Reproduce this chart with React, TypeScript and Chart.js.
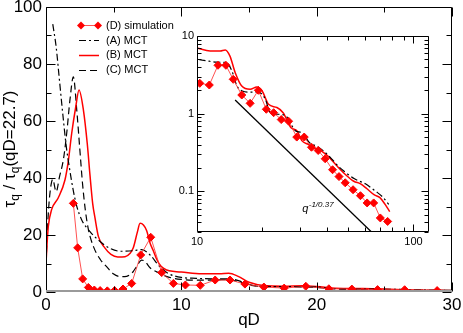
import React, { useEffect, useRef } from 'react';
import { Chart, registerables } from 'chart.js';
Chart.register(...registerables);

const FONT = '"Liberation Sans", Arial, Helvetica, sans-serif';

// (D) simulation
const simQ = [2.02, 2.34, 2.71, 3.13, 3.57, 4.0, 4.53, 5.07, 5.69, 6.33, 7.0, 7.74, 8.55, 9.41, 10.3, 11.4, 12.5, 13.6, 14.7, 16.1, 17.6, 19.2, 20.9, 22.6, 24.5, 26.5, 28.9, 31.3, 33.8, 36.3, 39.1, 42.3, 45.3, 48.4, 52.6, 56.9, 61.1, 65.5, 70.3, 76.0];
const simTau = [31.1, 15.5, 4.6, 1.6, 0.7, 0.5, 0.4, 0.5, 1.05, 3.0, 13.0, 19.2, 6.8, 3.0, 2.46, 2.34, 4.2, 4.2, 2.77, 1.74, 1.36, 2.0, 1.14, 1.03, 0.84, 0.8, 0.5, 0.5, 0.37, 0.336, 0.263, 0.19, 0.155, 0.129, 0.105, 0.088, 0.071, 0.071, 0.0455, 0.041];

// (A) MCT
const mctAQ = [0.5, 0.75, 1.0, 1.25, 1.5, 1.75, 2.0, 2.25, 2.64, 3.25, 4.0, 4.73, 5.5, 6.45, 7.07, 7.69, 8.37, 9.0, 10.0, 11.1, 12.3, 13.7, 14.5, 15.3, 16.2, 17.3, 19.2, 20.7, 21.8, 24.2, 25.8, 28.6, 30.5, 33.2, 35.9, 38.5, 42, 45, 48, 53.4, 60, 67, 72, 76.9];
const mctATau = [94, 86, 74, 62, 51, 43, 36, 30.5, 25.3, 21.2, 17.7, 15.3, 14.3, 14.5, 14.9, 13, 9.1, 6.6, 5.1, 4.8, 4.6, 4.55, 3.55, 2.27, 1.96, 1.9, 1.9, 1.53, 1.03, 0.98, 0.93, 0.6, 0.57, 0.42, 0.38, 0.33, 0.26, 0.21, 0.18, 0.145, 0.125, 0.1, 0.085, 0.068];

// (B) MCT
const mctBQ = [0, 0.08, 0.17, 0.42, 0.9, 1.4, 1.65, 1.9, 2.2, 2.44, 2.76, 3.05, 3.25, 3.45, 3.62, 3.87, 4.36, 4.8, 5.3, 5.84, 6.2, 6.45, 6.75, 6.95, 7.2, 7.44, 7.7, 7.93, 8.18, 8.5, 8.92, 9.5, 10.0, 11.5, 12.8, 13.5, 14.2, 15.0, 16.1, 17.6, 18.9, 20.0, 21.4, 23.4, 25.0, 27.2, 29.0, 30.5, 32.8, 34.4, 36.4, 38.2, 40.5, 44.5, 48.5, 53, 57, 61, 66, 70, 74, 77.7];
const mctBTau = [10, 17, 23, 29, 33, 39.3, 46, 55.7, 65, 70.9, 64, 52, 41, 31, 26, 19.5, 15.4, 13.2, 12.3, 12.4, 13.5, 15.5, 21, 24.1, 23.5, 21.5, 17, 14.5, 11.5, 9.0, 7.7, 7.2, 7.0, 6.4, 6.4, 6.6, 5.5, 3.4, 2.27, 2.06, 2.2, 1.96, 1.32, 1.2, 1.03, 0.66, 0.6, 0.45, 0.4, 0.36, 0.35, 0.32, 0.28, 0.21, 0.165, 0.135, 0.125, 0.108, 0.09, 0.083, 0.068, 0.055];

// (C) MCT
const mctCQ = [0, 0.15, 0.3, 0.5, 0.75, 1.0, 1.28, 1.53, 1.77, 2.02, 2.27, 2.5, 2.7, 2.9, 3.13, 3.5, 4.0, 4.48, 4.97, 5.5, 5.96, 6.45, 6.7, 7.07, 7.3, 7.69, 8.37, 9.0, 10, 11, 12, 13, 13.7, 14.3, 14.8, 15.5, 16.2, 17.5, 19, 20, 21, 22.7, 25, 27, 30];
const mctCTau = [10, 26, 35, 39.5, 35.2, 40.5, 46.3, 55.7, 67.4, 75.5, 64, 50, 38, 29, 22, 16, 11.5, 8.9, 6.4, 5.4, 5.5, 7.2, 9, 11.2, 10.8, 8.5, 6.6, 5.3, 4.4, 4.2, 4.2, 4.3, 4.2, 3.5, 2.7, 2.1, 1.9, 1.85, 1.8, 1.6, 1.2, 1.0, 0.85, 0.7, 0.5];

// power-law guide q^(-1/0.37)
const guideQ = [15, 64];
const guideTau = [1.5, 0.03];
const guideLabelQ = 30.6;
const guideLabelTau = 0.054;

const mainXTicks = [0, 10, 20, 30];
const mainYTicks = [0, 20, 40, 60, 80, 100];
const mainXMinor = [5, 15, 25];
const mainYMinor = [10, 30, 50, 70, 90];
const insetXTicks = [10, 100];
const insetYTicks = [0.1, 1, 10];

const legendLabels = ['(D) simulation', '(A) MCT', '(B) MCT', '(C) MCT'];

const pts = (xs: number[], ys: number[], minX = -Infinity) =>
  xs.map((x, i) => ({ x, y: ys[i] })).filter((p) => p.x >= minX);

const STY: any = {
  D: { borderColor: 'rgba(255,50,50,0.85)', borderWidth: 1, pointRadius: 4, pointStyle: 'rectRot', pointBackgroundColor: '#ff0000', pointBorderColor: '#ff0000', pointBorderWidth: 1, tension: 0 },
  A: { borderColor: '#000000', borderWidth: 1.2, borderDash: [7, 3, 2, 3], pointRadius: 0, cubicInterpolationMode: 'monotone' },
  B: { borderColor: '#ff0000', borderWidth: 1.5, pointRadius: 0, cubicInterpolationMode: 'monotone' },
  C: { borderColor: '#000000', borderWidth: 1.2, borderDash: [7, 4], pointRadius: 0, cubicInterpolationMode: 'monotone' },
};

function frameAndTicks(chart: any, xMaj: number[], xMin: number[], yMaj: number[], yMin: number[], majLen: number, minLen: number) {
  const { ctx, chartArea: a, scales } = chart;
  const xs = scales.x, ys = scales.y;
  const L = Math.round(a.left) + 0.5, R = Math.round(a.right) - 0.5, T = Math.round(a.top) + 0.5, B = Math.round(a.bottom) - 0.5;
  ctx.save();
  ctx.strokeStyle = '#000';
  ctx.lineWidth = 1;
  ctx.setLineDash([]);
  ctx.beginPath();
  ctx.rect(L, T, R - L, B - T);
  const vx = (vals: number[], len: number) => {
    vals.forEach((v) => {
      const p = Math.round(xs.getPixelForValue(v)) + 0.5;
      ctx.moveTo(p, B); ctx.lineTo(p, B - len);
      ctx.moveTo(p, T); ctx.lineTo(p, T + len);
    });
  };
  const vy = (vals: number[], len: number) => {
    vals.forEach((v) => {
      const p = Math.round(ys.getPixelForValue(v)) + 0.5;
      ctx.moveTo(L, p); ctx.lineTo(L + len, p);
      ctx.moveTo(R, p); ctx.lineTo(R - len, p);
    });
  };
  vx(xMaj, majLen); vx(xMin, minLen); vy(yMaj, majLen); vy(yMin, minLen);
  ctx.stroke();
  ctx.restore();
}

function drawLegend(ctx: any) {
  const keys = ['D', 'A', 'B', 'C'];
  const rows = [25, 40, 54.5, 69.5];
  ctx.save();
  ctx.font = `11px ${FONT}`;
  ctx.textBaseline = 'middle';
  ctx.fillStyle = '#000';
  keys.forEach((k, i) => {
    const s = STY[k];
    const y = Math.round(rows[i]) + 0.5;
    ctx.beginPath();
    ctx.strokeStyle = s.borderColor;
    ctx.lineWidth = s.borderWidth;
    ctx.setLineDash(s.borderDash || []);
    ctx.moveTo(79, y); ctx.lineTo(99, y);
    ctx.stroke();
    ctx.setLineDash([]);
    if (k === 'D') {
      ctx.fillStyle = '#ff0000';
      [81, 98].forEach((x) => {
        ctx.beginPath();
        ctx.moveTo(x, y - 4); ctx.lineTo(x + 4, y); ctx.lineTo(x, y + 4); ctx.lineTo(x - 4, y);
        ctx.closePath(); ctx.fill();
      });
    }
    ctx.fillStyle = '#000';
    ctx.fillText(legendLabels[i], 106, rows[i] + 0.5);
  });
  ctx.restore();
}

function drawYTitle(ctx: any, cx: number, cy: number) {
  const big = `17px ${FONT}`, small = `12px ${FONT}`;
  const segs = [
    { t: 'τ', f: big, dy: 0 },
    { t: 'q', f: small, dy: 4 },
    { t: ' / ', f: big, dy: 0 },
    { t: 'τ', f: big, dy: 0 },
    { t: 'q', f: small, dy: 4 },
    { t: '(qD=22.7)', f: big, dy: 0 },
  ];
  ctx.save();
  let total = 0;
  const widths = segs.map((s) => { ctx.font = s.f; const w = ctx.measureText(s.t).width; total += w; return w; });
  ctx.translate(cx, cy);
  ctx.rotate(-Math.PI / 2);
  ctx.fillStyle = '#000';
  ctx.textBaseline = 'alphabetic';
  ctx.textAlign = 'left';
  let x = -total / 2;
  segs.forEach((s, i) => { ctx.font = s.f; ctx.fillText(s.t, x, s.dy); x += widths[i]; });
  ctx.restore();
}

const mainDecor = {
  id: 'mainDecor',
  afterDatasetsDraw(chart: any) {
    const { ctx, chartArea: a, scales } = chart;
    frameAndTicks(chart, mainXTicks, mainXMinor, mainYTicks, mainYMinor, 9, 5);
    const y0 = scales.y.getPixelForValue(0);
    ctx.save();
    ctx.strokeStyle = '#9a9a9a';
    ctx.lineWidth = 2;
    ctx.beginPath();
    ctx.moveTo(a.left, y0 - 1); ctx.lineTo(a.right, y0 - 1);
    ctx.stroke();
    ctx.restore();
    drawLegend(ctx);
    drawYTitle(ctx, 15, 149);
    ctx.save();
    ctx.font = `17px ${FONT}`;
    ctx.fillStyle = '#000';
    ctx.textAlign = 'center';
    ctx.textBaseline = 'alphabetic';
    ctx.fillText('qD', (a.left + a.right) / 2, 325);
    ctx.restore();
  },
};

const insetDecor = {
  id: 'insetDecor',
  afterDatasetsDraw(chart: any) {
    const { ctx, scales } = chart;
    const xMinor: number[] = [];
    for (let d = 10; d <= 100; d *= 10) for (let m = 2; m <= 9; m++) if (m * d <= scales.x.max) xMinor.push(m * d);
    const yMinor: number[] = [];
    for (let d = 0.01; d <= 1.5; d *= 10) for (let m = 2; m <= 9; m++) { const v = m * d; if (v >= scales.y.min && v <= scales.y.max) yMinor.push(v); }
    frameAndTicks(chart, insetXTicks, xMinor, insetYTicks, yMinor, 7, 4);
    const px = scales.x.getPixelForValue(guideLabelQ);
    const py = scales.y.getPixelForValue(guideLabelTau);
    ctx.save();
    ctx.fillStyle = '#000';
    ctx.textBaseline = 'alphabetic';
    ctx.font = `italic 11px ${FONT}`;
    ctx.fillText('q', px, py);
    const qw = ctx.measureText('q').width;
    ctx.font = `italic 8px ${FONT}`;
    ctx.fillText('-1/0.37', px + qw + 0.5, py - 5);
    ctx.restore();
  },
};

export default function App() {
  const mainRef = useRef<HTMLCanvasElement>(null);
  const insetRef = useRef<HTMLCanvasElement>(null);

  useEffect(() => {
    const tickFont = { family: FONT, size: 17 };
    const main = new Chart(mainRef.current as HTMLCanvasElement, {
      type: 'line',
      data: {
        datasets: [
          { label: legendLabels[0], data: pts(simQ, simTau), ...STY.D },
          { label: legendLabels[1], data: pts(mctAQ, mctATau), ...STY.A },
          { label: legendLabels[2], data: pts(mctBQ, mctBTau), ...STY.B },
          { label: legendLabels[3], data: pts(mctCQ, mctCTau), ...STY.C },
        ] as any,
      },
      options: {
        responsive: false,
        animation: false,
        devicePixelRatio: 1,
        events: [],
        layout: { padding: { top: 7, right: 11, left: 0, bottom: 0 } },
        plugins: { legend: { display: false }, tooltip: { enabled: false } },
        scales: {
          x: {
            type: 'linear', min: 0, max: 30,
            grid: { display: false, drawTicks: false },
            border: { display: false },
            ticks: { font: tickFont, color: '#000', padding: 3, autoSkip: false, maxRotation: 0 },
            afterBuildTicks: (s: any) => { s.ticks = mainXTicks.map((v) => ({ value: v })); },
            afterFit: (s: any) => { s.height = 41; s.paddingLeft = 0; s.paddingRight = 0; },
          },
          y: {
            type: 'linear', min: 0, max: 100,
            grid: { display: false, drawTicks: false },
            border: { display: false },
            ticks: { font: tickFont, color: '#000', padding: 4, autoSkip: false },
            afterBuildTicks: (s: any) => { s.ticks = mainYTicks.map((v) => ({ value: v })); },
            afterFit: (s: any) => { s.width = 46; s.paddingTop = 0; s.paddingBottom = 0; },
          },
        },
      } as any,
      plugins: [mainDecor],
    });

    const insetFont = { family: FONT, size: 11 };
    const inset = new Chart(insetRef.current as HTMLCanvasElement, {
      type: 'line',
      data: {
        datasets: [
          { label: legendLabels[0], data: pts(simQ, simTau, 9), ...STY.D },
          { label: legendLabels[1], data: pts(mctAQ, mctATau, 8), ...STY.A },
          { label: legendLabels[2], data: pts(mctBQ, mctBTau, 8), ...STY.B },
          { label: 'guide', data: pts(guideQ, guideTau), borderColor: '#000', borderWidth: 1.3, pointRadius: 0, tension: 0 },
        ] as any,
      },
      options: {
        responsive: false,
        animation: false,
        devicePixelRatio: 1,
        events: [],
        layout: { padding: { top: 10, right: 16, left: 0, bottom: 0 } },
        plugins: { legend: { display: false }, tooltip: { enabled: false } },
        scales: {
          x: {
            type: 'logarithmic', min: 10, max: 118,
            grid: { display: false, drawTicks: false },
            border: { display: false },
            ticks: { font: insetFont, color: '#000', padding: 3, autoSkip: false, maxRotation: 0, callback: (v: any) => String(v) },
            afterBuildTicks: (s: any) => { s.ticks = insetXTicks.map((v) => ({ value: v })); },
            afterFit: (s: any) => { s.height = 24; s.paddingLeft = 0; s.paddingRight = 0; },
          },
          y: {
            type: 'logarithmic', min: 0.03, max: 10,
            grid: { display: false, drawTicks: false },
            border: { display: false },
            ticks: { font: insetFont, color: '#000', padding: 3, autoSkip: false, callback: (v: any) => String(v) },
            afterBuildTicks: (s: any) => { s.ticks = insetYTicks.map((v) => ({ value: v })); },
            afterFit: (s: any) => { s.width = 37; s.paddingTop = 0; s.paddingBottom = 0; },
          },
        },
      } as any,
      plugins: [insetDecor],
    });

    return () => { main.destroy(); inset.destroy(); };
  }, []);

  return (
    <div style={{ position: 'absolute', left: 0, top: 0, width: 463, height: 333, background: '#fff' }}>
      <canvas ref={mainRef} width={463} height={333} style={{ position: 'absolute', left: 0, top: 0, width: 463, height: 333 }} />
      <canvas ref={insetRef} width={285} height={230} style={{ position: 'absolute', left: 160, top: 26, width: 285, height: 230 }} />
    </div>
  );
}
